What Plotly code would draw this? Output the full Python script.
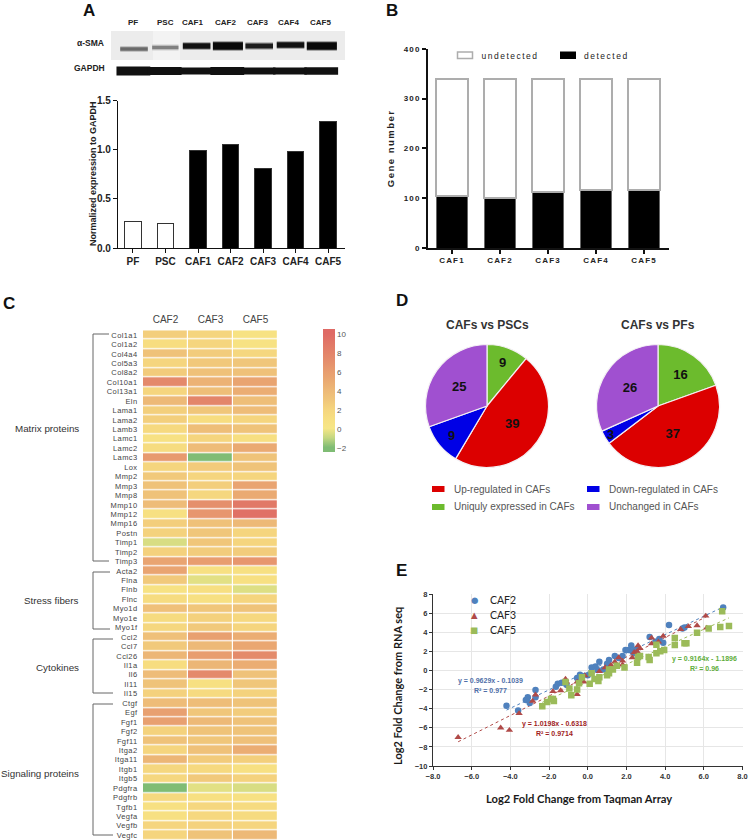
import numpy as np
import plotly.graph_objects as go

W, H = 748, 840
FONT = "Liberation Sans"

# ---------- panel A ----------
a_cats = ["PF", "PSC", "CAF1", "CAF2", "CAF3", "CAF4", "CAF5"]
a_vals = [0.27, 0.245, 0.99, 1.05, 0.805, 0.98, 1.285]
blot_sma_strength = [3.5, 3.5, 5.5, 7.5, 5, 5.5, 7.5]
blot_sma_colour = ["#6a6a6a", "#808080", "#111111", "#0a0a0a", "#1c1c1c", "#111111", "#0a0a0a"]
blot_gapdh_strength = [9, 8, 7, 8, 7, 7, 7.5]

# ---------- panel B ----------
b_cats = ["CAF1", "CAF2", "CAF3", "CAF4", "CAF5"]
b_detected = [105, 100, 112, 116, 117]
b_undetected = [235, 240, 228, 224, 223]

# ---------- panel C ----------
c_cols = ["CAF2", "CAF3", "CAF5"]
c_genes = ["Col1a1","Col1a2","Col4a4","Col5a3","Col8a2","Col10a1","Col13a1","Eln","Lama1","Lama2",
           "Lamb3","Lamc1","Lamc2","Lamc3","Lox","Mmp2","Mmp3","Mmp8","Mmp10","Mmp12","Mmp16",
           "Postn","Timp1","Timp2","Timp3","Acta2","Flna","Flnb","Flnc","Myo1d","Myo1e","Myo1f",
           "Ccl2","Ccl7","Ccl26","Il1a","Il6","Il11","Il15","Ctgf","Egf","Fgf1","Fgf2","Fgf11",
           "Itga2","Itga11","Itgb1","Itgb5","Pdgfra","Pdgfrb","Tgfb1","Vegfa","Vegfb","Vegfc"]
c_caf2 = [2.5,1.2,3.3,2,2.7,7.5,2,4,2.4,2.4,1.6,0.7,1.3,6.2,2,2.8,3.3,3.3,3.8,0.9,2.5,2.2,-0.6,2.3,5.5,
          5.5,2.8,0.6,1.3,3.5,1.4,1.8,3.5,2.8,4.2,1.2,3.8,3.2,2.3,3.8,5.8,5.8,2.2,3.3,2,4.2,1.8,1.8,-2,1.6,0.8,0.9,2,2]
c_caf3 = [2,2,2.6,2.9,3.4,4.5,3.6,7.8,3,1.2,3.6,2,3.8,-2,2.7,2,2.5,1.8,7,6.5,3.4,3,3,2.6,6,
          0.8,-0.4,1,0.9,3,2.3,2.8,5.8,4,6,4.2,7.4,0.9,1.5,3.7,3,4,3.2,3,3.4,2.7,1.6,2.8,-0.4,0.9,1.8,1.7,2.2,3.2]
c_caf5 = [0.6,0.6,1.8,3,3.4,5.5,4.8,3.6,3.8,2,3.2,1,5,3.2,3.2,2,5.5,5,8.8,9.5,4,2,2,2.6,6.5,
          0.9,0.9,-0.5,2,3.2,1.7,2,4.8,5.2,7.3,4.8,3.3,3,2.2,3.2,2.6,3.3,3.2,3.5,4.8,2.4,0.9,2.2,-0.6,0.7,1.4,1.4,2,4]
c_groups = ["Matrix proteins", "Stress fibers", "Cytokines", "Signaling proteins"]
c_step_colours = ["#7fbc74","#c4d781","#f6e686","#f7df81","#f5d57e","#f0c67a","#edb977",
                  "#eaaa72","#e89d6f","#e58f6c","#e38369","#e17767","#df6a65"]

# ---------- panel D ----------
d_labels = ["Uniquly expressed in CAFs", "Up-regulated in CAFs", "Down-regulated in CAFs", "Unchanged in CAFs"]
d_colours = ["#6cbb2d", "#dc0000", "#0000e6", "#a050d0"]
d_psc = [9, 39, 9, 25]
d_pf = [16, 37, 3, 26]

# ---------- panel E ----------
caf2_x = [-4.2,-3.6,-3.2,-3.1,-3.0,-2.7,-2.7,-1.65,-1.55,-1.35,-1.1,-0.55,-0.4,-0.3,0,0.2,0.4,0.5,0.6,0.8,
          1.0,1.1,1.4,1.6,1.8,1.95,2.1,2.25,2.3,2.4,2.5,3.2,3.5,3.7,3.9,4.2,4.9,5.0,7.0]
caf2_y = [-3.7,-4.2,-3.1,-2.8,-3.4,-2.05,-2.8,-1.7,-1.4,-1.3,-1.5,-0.8,-0.45,-0.7,-0.5,0.3,0.4,0.05,0.9,0.1,
          0.7,1.1,1.5,1.3,1.5,2.15,2.15,2.6,2.0,1.8,2.2,3.5,3.0,3.3,2.9,4.75,4.4,4.5,6.6]
caf3_x = [-6.7,-4.5,-4.05,-3.55,-2.85,-2.7,-1.8,-1.4,-1.15,-1.1,-0.55,-0.55,-0.15,-0.2,0.6,0.9,1.2,1.4,1.6,1.8,
          1.8,2.3,2.4,2.6,2.55,2.7,3.3,3.3,3.65,3.9,4.8,5.2,5.65,6.1,6.15]
caf3_y = [-7,-6,-6.25,-4.5,-3.2,-2.55,-2.2,-2.1,-0.9,-1.2,-2.5,-1.2,-0.55,-1.2,-0.1,0.3,0.55,0.9,1.35,1.0,
          0.6,1.35,1.9,2.6,2.0,2.3,3.4,2.8,3.0,3.6,4.3,4.6,4.7,5.7,4.45]
caf5_x = [-2.35,-2.1,-1.9,-1.8,-1.75,-1.15,-0.95,-0.85,-0.55,-0.45,-0.3,0.1,0.2,0.35,0.55,0.6,1.0,1.1,1.1,1.3,
          1.5,1.9,2.55,2.6,2.7,3.15,3.2,3.55,3.55,3.75,3.95,4.5,4.5,5.0,5.1,5.65,6.25,6.85,6.95,7.3]
caf5_y = [-3.75,-3.3,-3.0,-3.0,-3.2,-1.2,-1.9,-2.6,-2.0,-1.35,-0.7,-1.4,-0.3,-0.9,-1.1,-0.7,-0.5,-0.3,0.1,0.1,
          0.5,0.3,0.8,1.4,1.5,1.4,1.1,2.7,1.8,2.0,2.15,2.65,3.4,2.85,2.85,3.95,4.4,4.55,6.2,4.65]
fit_caf2 = (0.9629, -0.1039)
fit_caf3 = (1.0198, -0.6318)
fit_caf5 = (0.9164, -1.1896)


def dx(a, b):
    return [a / W, b / W]


def dy(top, bottom):
    return [1 - bottom / H, 1 - top / H]


fig = go.Figure()
notes = []
shapes = []


def note(x, y, text, size=10, color="#333333", bold=False, anchor="center", angle=0, family=FONT):
    notes.append(dict(x=x / W, y=1 - y / H, xref="paper", yref="paper", showarrow=False,
                      text=f"<b>{text}</b>" if bold else text, xanchor=anchor, yanchor="middle",
                      textangle=angle, font=dict(size=size, color=color, family=family)))


def rect(x0, y0, x1, y1, fill, line=None, lw=0):
    shapes.append(dict(type="rect", xref="paper", yref="paper", x0=x0 / W, x1=x1 / W,
                       y0=1 - y0 / H, y1=1 - y1 / H, fillcolor=fill, layer="below",
                       line=dict(color=line or fill, width=lw)))


def bracket(x0, x1, top, bottom):
    path = (f"M {x1/W} {1-top/H} L {x0/W} {1-top/H} L {x0/W} {1-bottom/H} L {x1/W} {1-bottom/H}")
    shapes.append(dict(type="path", xref="paper", yref="paper", path=path,
                       line=dict(color="#666666", width=1)))


# ---- A bar ----
fig.add_bar(x=list(range(7)), y=a_vals, xaxis="x", yaxis="y", width=0.5, showlegend=False,
            marker=dict(color=["white", "white"] + ["black"] * 5,
                        line=dict(color="#333333", width=1)))

# ---- A blot ----
rect(111, 31, 345, 60, "#ececec")
rect(153, 31, 180, 60, "#f3f3f3")
lane_half = [0.44, 0.42, 0.44, 0.48, 0.44, 0.44, 0.48]
sma_centre = [49, 47.5, 46, 46, 46, 45, 46]
for i in range(7):
    xs = [i - lane_half[i], i + lane_half[i]]
    fig.add_scatter(x=xs, y=[sma_centre[i]] * 2, xaxis="x2", yaxis="y2", mode="lines", showlegend=False,
                    hoverinfo="skip", opacity=0.3,
                    line=dict(color=blot_sma_colour[i], width=blot_sma_strength[i] + 2.5))
    fig.add_scatter(x=xs, y=[sma_centre[i]] * 2, xaxis="x2", yaxis="y2", mode="lines", showlegend=False,
                    hoverinfo="skip", line=dict(color=blot_sma_colour[i], width=blot_sma_strength[i]))
    xs2 = [i - 0.56, i + 0.52]
    fig.add_scatter(x=xs2, y=[71, 71], xaxis="x2", yaxis="y2", mode="lines", showlegend=False,
                    hoverinfo="skip", line=dict(color="#111111", width=blot_gapdh_strength[i]))

# ---- B stacked ----
fig.add_bar(x=list(range(5)), y=b_detected, xaxis="x3", yaxis="y3", width=0.65, showlegend=False,
            name="detected", marker=dict(color="black", line=dict(color="#666666", width=1)))
fig.add_bar(x=list(range(5)), y=b_undetected, xaxis="x3", yaxis="y3", width=0.65, showlegend=False,
            name="undetected", marker=dict(color="white", line=dict(color="#adadad", width=2)))

# ---- C heatmap ----
n = len(c_step_colours)
scale = [[0, c_step_colours[0]]]
for i, c in enumerate(c_step_colours):
    scale.append([(i + 0.5) / n, c])
scale.append([1, c_step_colours[-1]])
fig.add_heatmap(z=np.array([c_caf2, c_caf3, c_caf5]).T.tolist(), x=c_cols, y=c_genes, xaxis="x4", yaxis="y4",
                colorscale=scale, zmin=-2.5, zmax=10.5, xgap=1.2, ygap=1.2,
                colorbar=dict(thickness=12, thicknessmode="pixels", len=123, lenmode="pixels",
                              x=323 / W, xanchor="left", y=1 - 329.5 / H, yanchor="top", ypad=0, xpad=0,
                              outlinewidth=0, tickvals=list(range(-2, 11, 2)), ticks="",
                              tickfont=dict(size=8, color="#555555", family=FONT)))

# ---- D pies ----
for vals, cx, name in [(d_psc, 487, "CAFs vs PSCs"), (d_pf, 658, "CAFs vs PFs")]:
    r, cy = 61.5, 406
    fig.add_pie(values=vals, labels=d_labels, sort=False, direction="clockwise", rotation=0, name=name,
                domain=dict(x=dx(cx - r, cx + r), y=dy(cy - r, cy + r)), showlegend=False,
                marker=dict(colors=d_colours, line=dict(color="#f4f0f4", width=1.2)),
                textinfo="value", textposition="inside", insidetextorientation="horizontal",
                textfont=dict(size=13, color="#111111", family=FONT, weight="bold"))
    note(cx, 325, name, size=12, color="#333333", bold=True)

for x, y, lab, col, tx in [(432, 489, d_labels[1], d_colours[1], 452), (587, 489, d_labels[2], d_colours[2], 607),
                           (432, 507, d_labels[0], d_colours[0], 452), (587, 507, d_labels[3], d_colours[3], 607)]:
    rect(x, y - 3, x + 12.5, y + 3, col)
    note(tx, y, lab, size=10, color="#555555", anchor="left")

# ---- E scatter ----
e_series = [
    (caf2_x, caf2_y, fit_caf2, "#4f81bd", "circle", "CAF2"),
    (caf3_x, caf3_y, fit_caf3, "#b04a48", "triangle-up", "CAF3"),
    (caf5_x, caf5_y, fit_caf5, "#9bbb59", "square", "CAF5"),
]
for xs, ys, fit, col, sym, name in e_series:
    tx = np.array([min(xs), max(xs)])
    fig.add_scatter(x=tx.tolist(), y=(fit[0] * tx + fit[1]).tolist(), xaxis="x5", yaxis="y5", mode="lines",
                    showlegend=False, hoverinfo="skip", line=dict(color=col, width=1, dash="dot"))
for xs, ys, fit, col, sym, name in e_series:
    fig.add_scatter(x=xs, y=ys, xaxis="x5", yaxis="y5", mode="markers", name=name, showlegend=False,
                    marker=dict(color=col, symbol=sym, size=6.5))
for (xs, ys, fit, col, sym, name), y, glyph in zip(e_series, [600, 615, 630], ["●", "▲", "■"]):
    note(474, y, glyph, size=8.5, color=col, family="DejaVu Sans")
    note(488, y, name, size=10.5, color="#222222", anchor="left", family="Lato")

# ---- text ----
for x, y, t in [(89, 10.5, "A"), (392, 10.5, "B"), (9, 303, "C"), (402, 300, "D"), (401, 570, "E")]:
    note(x, y, t, size=17, color="#111111", bold=True)
for x, t in zip([133, 165, 193, 225, 257, 288, 320], a_cats):
    note(x, 22, t, size=8, color="#222222", bold=True)
note(106, 43, "α-SMA", size=8.5, color="#222222", bold=True, anchor="right")
note(107, 68, "GAPDH", size=8.5, color="#222222", bold=True, anchor="right")
note(93, 174, "Normalized expression to GAPDH", size=9, color="#222222", bold=True, angle=-90)
note(390, 148, "Gene number", size=9.5, color="#222222", bold=True, angle=-90)
note(487, 56, "undetected", size=8.5, color="#222222", anchor="left")
note(588, 56, "detected", size=8.5, color="#222222", anchor="left")
rect(457.5, 52, 472.5, 58.5, "white", "#adadad", 1.5)
rect(560, 51.5, 576, 59, "black")

note(81, 429, c_groups[0], size=9.8, color="#333333", anchor="right")
note(81, 600, c_groups[1], size=9.8, color="#333333", anchor="right")
note(81, 667, c_groups[2], size=9.8, color="#333333", anchor="right")
note(81, 773, c_groups[3], size=9.8, color="#333333", anchor="right")
bracket(93, 109, 334, 561)
bracket(93, 110, 572, 629)
bracket(93, 113, 639, 693)
bracket(93, 113, 704, 835)

note(579, 798, "Log2 Fold Change from Taqman Array", size=11.2, color="#1a1a1a", bold=True, family="Lato")
note(397, 686, "Log2 Fold Change from RNA seq", size=11, color="#1a1a1a", bold=True, angle=-90, family="Lato")
note(491, 681, "y = 0.9629x - 0.1039", size=7, color="#4f6fa8", bold=True)
note(491, 690.5, "R² = 0.977", size=7, color="#4f6fa8", bold=True)
note(554, 724, "y = 1.0198x - 0.6318", size=7, color="#a01c1c", bold=True)
note(554, 733.5, "R² = 0.9714", size=7, color="#a01c1c", bold=True)
note(704, 659, "y = 0.9164x - 1.1896", size=7, color="#5fae3a", bold=True)
note(704, 668.5, "R² = 0.96", size=7, color="#5fae3a", bold=True)

axis_common = dict(showgrid=False, zeroline=False, showline=True, linecolor="#111111", ticks="outside",
                   tickcolor="#111111")

fig.update_layout(
    width=W, height=H, margin=dict(l=0, r=0, t=0, b=0, autoexpand=False), autosize=False,
    paper_bgcolor="white", plot_bgcolor="white", font=dict(family=FONT), barmode="stack", bargap=0.3,
    annotations=notes, shapes=shapes, uniformtext=dict(minsize=13, mode="show"), showlegend=False,
    xaxis=dict(domain=dx(118, 345), range=[-0.46, 6.52], anchor="y", tickvals=list(range(7)), ticktext=a_cats,
               linewidth=1.2, tickwidth=1.2, ticklen=4, tickfont=dict(size=10, color="#222222", weight="bold"),
               **axis_common),
    yaxis=dict(domain=dy(100.7, 248), range=[0, 1.5], anchor="x", tickvals=[0, 0.5, 1, 1.5],
               ticktext=["0.0", "0.5", "1.0", "1.5"], linewidth=1.2, tickwidth=1.2, ticklen=4,
               tickfont=dict(size=10, color="#222222", weight="bold"), **axis_common),
    xaxis2=dict(domain=dx(111, 345), range=[-0.735, 6.74], anchor="y2", visible=False),
    yaxis2=dict(domain=dy(25, 85), range=[85, 25], anchor="x2", visible=False),
    xaxis3=dict(domain=dx(428, 669), range=[-0.5, 4.52], anchor="y3", tickvals=list(range(5)), ticktext=b_cats,
                linewidth=1.5, tickwidth=1.5, ticklen=4, tickfont=dict(size=8, color="#222222", weight="bold"),
                **axis_common),
    yaxis3=dict(domain=dy(48.7, 248), range=[0, 400], anchor="x3", tickvals=[0, 100, 200, 300, 400],
                linewidth=1.5, tickwidth=1.5, ticklen=4, tickfont=dict(size=8, color="#222222", weight="bold"),
                **axis_common),
    xaxis4=dict(domain=dx(143, 278), anchor="y4", side="top", showgrid=False, zeroline=False, ticks="outside",
                ticklen=2, tickcolor="rgba(0,0,0,0)", tickfont=dict(size=10, color="#444444")),
    yaxis4=dict(domain=dy(330.3, 840), anchor="x4", autorange="reversed", showgrid=False, zeroline=False,
                ticks="outside", ticklen=3, tickcolor="rgba(0,0,0,0)", dtick=1,
                tickfont=dict(size=7.5, color="#444444")),
    xaxis5=dict(domain=dx(433, 742.5), range=[-8, 8], anchor="y5", dtick=2, tickformat=".1f", showgrid=True,
                gridcolor="#e6e6e6", gridwidth=0.7, zeroline=False, showline=True, linecolor="#333333",
                linewidth=1.2, ticks="outside", ticklen=3, tickcolor="#333333",
                tickfont=dict(size=7.5, color="#333333", weight="bold")),
    yaxis5=dict(domain=dy(594, 766), range=[-10, 8], anchor="x5", dtick=2, showgrid=True, gridcolor="#e6e6e6",
                gridwidth=0.7, zeroline=False, showline=True, linecolor="#333333", linewidth=1.2, ticks="outside",
                ticklen=3, tickcolor="#333333", tickfont=dict(size=7.5, color="#333333", weight="bold")),
)

post = """
document.body.style.margin='0';
document.querySelectorAll('.x3tick text, .y3tick text').forEach(function(t){t.style.letterSpacing='1.2px';});
document.querySelectorAll('.y4tick text').forEach(function(t){t.style.letterSpacing='0.4px';});
document.querySelectorAll('.annotation-text').forEach(function(t){
  if(['Gene number','undetected','detected'].indexOf(t.textContent)>=0) t.style.letterSpacing='1.5px';
});
"""
fig.write_html("out.html", post_script=post, config={"displayModeBar": False})
